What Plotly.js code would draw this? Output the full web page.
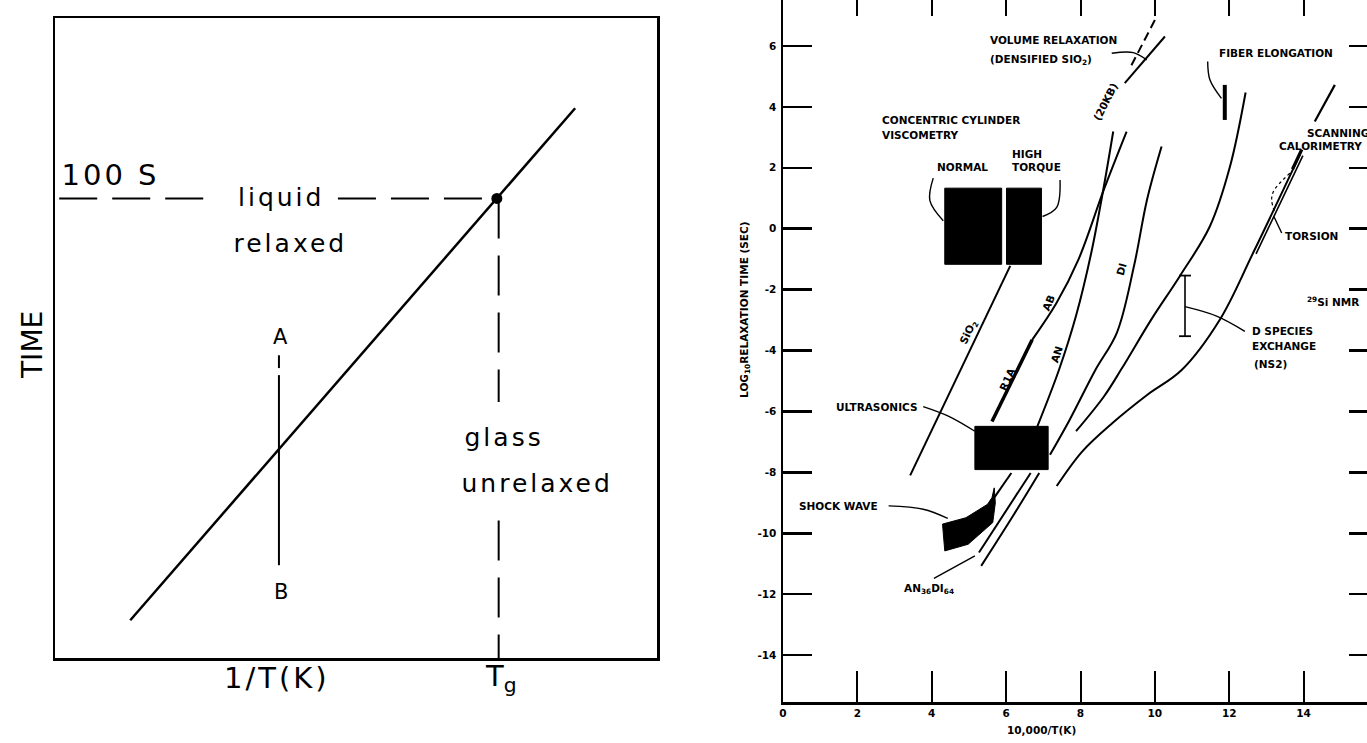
<!DOCTYPE html>
<html><head><meta charset="utf-8">
<script src="https://cdn.plot.ly/plotly-3.0.1.min.js"></script>
<style>
html,body{margin:0;padding:0;background:#fff;overflow:hidden;width:1367px;height:743px;}
#chart{position:absolute;left:0;top:-30px;width:1400px;height:773px;}
</style></head><body><div id="chart"></div>
<script>
// ================= LEFT PANEL (schematic; fractions of the box) =================
const mainLineX = [0.125, 0.864];
const mainLineY = [0.059, 0.859];
const tgPointX = [0.734];
const tgPointY = [0.718];
const hDashAX = [0.007, 0.262], hDashAY = [0.718, 0.718];
const hDashBX = [0.470, 0.734], hDashBY = [0.718, 0.718];
const vDashAX = [0.737, 0.737], vDashAY = [0.718, 0.40];
const vDashBX = [0.737, 0.737], vDashBY = [0.215, 0.0];
const abDashX = [0.372, 0.372], abDashY = [0.473, 0.453];
const abSolidX = [0.372, 0.372], abSolidY = [0.442, 0.145];

// ================= RIGHT PANEL (10,000/T(K) vs log10 relaxation time) =================
const xTicks = [0, 2, 4, 6, 8, 10, 12, 14, 16];
const xTickText = ["0", "2", "4", "6", "8", "10", "12", "14", ""];
const yTicks = [-14, -12, -10, -8, -6, -4, -2, 0, 2, 4, 6, 8];
const yTickText = ["-14", "-12", "-10", "-8", "-6", "-4", "-2", "0", "2", "4", "6", ""];

const sio2X = [6.11, 3.42];                 const sio2Y = [-1.22, -8.10];
const abX = [9.24, 8.63, 7.95, 7.35, 6.70];  const abY = [3.19, 1.29, -1.00, -2.45, -3.65];
const r1aX = [6.70, 5.62];                  const r1aY = [-3.65, -6.33];
const anX = [8.88, 8.63, 8.29, 7.88, 7.42, 6.84]; const anY = [3.19, 1.40, -0.79, -2.86, -4.64, -6.49];
const diX = [10.18, 9.79, 9.44, 8.98, 8.40, 7.71, 7.18]; const diY = [2.70, 0.96, -1.22, -3.41, -4.64, -6.27, -7.42];
const fiberCurveX = [12.44, 12.02, 11.48, 10.67, 9.91, 9.10, 8.63, 7.88];
const fiberCurveY = [4.47, 2.04, 0.08, -1.56, -2.97, -4.61, -5.51, -6.65];
const nmrCurveX = [13.90, 12.64, 11.75, 10.72, 9.79, 8.86, 8.05, 7.36];
const nmrCurveY = [2.43, -0.80, -2.98, -4.64, -5.46, -6.38, -7.31, -8.45];
const torsionLineX = [13.98, 12.72];        const torsionLineY = [2.40, -0.83];
const lowAX = [6.14, 5.68];                 const lowAY = [-8.02, -8.83];
const lowBX = [6.66, 5.27];                 const lowBY = [-8.02, -10.63];
const lowCX = [6.89, 6.20, 5.33];           const lowCY = [-8.02, -9.40, -11.07];
const volDashX = [10.00, 9.33];             const volDashY = [6.85, 5.27];
const volSolidX = [10.27, 9.19];            const volSolidY = [6.31, 4.78];
const scanSegX = [14.84, 14.30];            const scanSegY = [4.72, 3.52];
const calSegX = [13.95, 13.70];             const calSegY = [2.60, 1.95];
const fiberBarX = [11.88, 11.88];           const fiberBarY = [4.72, 3.57];
const errBarX = [10.81, 10.81];             const errBarY = [-1.54, -3.53];
const errCapTopX = [10.65, 10.97];          const errCapTopY = [-1.54, -1.54];
const errCapBotX = [10.65, 10.97];          const errCapBotY = [-3.53, -3.53];

const normalBoxX = [4.35, 5.88, 5.88, 4.35, 4.35]; const normalBoxY = [-1.17, -1.17, 1.33, 1.33, -1.17];
const torqueBoxX = [6.01, 6.95, 6.95, 6.01, 6.01]; const torqueBoxY = [-1.17, -1.17, 1.33, 1.33, -1.17];
const ultraBoxX = [5.16, 7.13, 7.13, 5.16, 5.16];  const ultraBoxY = [-7.91, -7.91, -6.49, -6.49, -7.91];
const shockX = [4.29, 4.92, 5.21, 5.50, 5.62, 5.68, 5.71, 5.64, 4.98, 4.35, 4.29];
const shockY = [-9.70, -9.49, -9.27, -9.05, -8.83, -8.51, -9.00, -9.65, -10.36, -10.58, -9.70];

// leader lines
const volLeadX = [8.84, 9.42, 9.78];   const volLeadY = [5.76, 5.78, 5.54];
const fiberLeadX = [11.42, 11.48, 11.79]; const fiberLeadY = [5.49, 4.89, 4.28];
const normLeadX = [4.04, 3.95, 4.31];  const normLeadY = [1.66, 0.92, 0.26];
const torqLeadX = [7.45, 7.36, 6.98];  const torqLeadY = [1.60, 0.70, 0.40];
const torsArcX = [13.63, 13.20, 13.14, 13.23]; const torsArcY = [1.82, 1.25, 0.95, 0.51];
const torsLeadX = [13.41, 13.20];      const torsLeadY = [-0.14, 0.40];
const dspLeadX = [10.81, 11.66, 12.42]; const dspLeadY = [-2.56, -2.87, -3.37];
const ultraLeadX = [3.77, 4.46, 5.16]; const ultraLeadY = [-5.84, -6.16, -6.65];
const shockLeadX = [2.84, 3.77, 4.43]; const shockLeadY = [-9.10, -9.21, -9.51];
const andiLeadX = [4.06, 5.16];        const andiLeadY = [-11.48, -10.74];

// ================= build =================
const K = '#000';
function ln(x, y, ax, w, extra) {
  const line = {color: K, width: w};
  if (extra && extra.dash) line.dash = extra.dash;
  if (extra && extra.spline) line.shape = 'spline';
  return {type: 'scatter', mode: 'lines', x: x, y: y, xaxis: ax[0], yaxis: ax[1],
    line: line, hoverinfo: 'skip', showlegend: false};
}
const L = ['x', 'y'], R = ['x2', 'y2'];
const S = {spline: true};
const CW = 2;
const traces = [
  ln(mainLineX, mainLineY, L, 2.5),
  ln(hDashAX, hDashAY, L, 2, {dash: '38px,15px'}),
  ln(hDashBX, hDashBY, L, 2, {dash: '38px,15px'}),
  ln(vDashAX, vDashAY, L, 2, {dash: '40px,17px'}),
  ln(vDashBX, vDashBY, L, 2, {dash: '40px,17px'}),
  ln(abDashX, abDashY, L, 2),
  ln(abSolidX, abSolidY, L, 2),
  {type: 'scatter', mode: 'markers', x: tgPointX, y: tgPointY, xaxis: 'x', yaxis: 'y',
   marker: {color: K, size: 11}, hoverinfo: 'skip', showlegend: false},

  ln(sio2X, sio2Y, R, CW),
  ln(abX, abY, R, CW, S),
  ln(r1aX, r1aY, R, 3.5),
  ln(anX, anY, R, CW, S),
  ln(diX, diY, R, CW, S),
  ln(fiberCurveX, fiberCurveY, R, CW, S),
  ln(nmrCurveX, nmrCurveY, R, CW, S),
  ln(torsionLineX, torsionLineY, R, 1.6),
  ln(lowAX, lowAY, R, CW),
  ln(lowBX, lowBY, R, CW),
  ln(lowCX, lowCY, R, CW, S),
  ln(volDashX, volDashY, R, CW, {dash: '9px,5px'}),
  ln(volSolidX, volSolidY, R, CW),
  ln(scanSegX, scanSegY, R, 2.2),
  ln(calSegX, calSegY, R, 3.2),
  ln(fiberBarX, fiberBarY, R, 4),
  ln(errBarX, errBarY, R, 1.6),
  ln(errCapTopX, errCapTopY, R, 1.8),
  ln(errCapBotX, errCapBotY, R, 1.8),
  ln(volLeadX, volLeadY, R, 1.4, S),
  ln(fiberLeadX, fiberLeadY, R, 1.4, S),
  ln(normLeadX, normLeadY, R, 1.4, S),
  ln(torqLeadX, torqLeadY, R, 1.4, S),
  ln(torsArcX, torsArcY, R, 1.2, {dash: '3px,3px', spline: true}),
  ln(torsLeadX, torsLeadY, R, 1.4),
  ln(dspLeadX, dspLeadY, R, 1.4, S),
  ln(ultraLeadX, ultraLeadY, R, 1.4, S),
  ln(shockLeadX, shockLeadY, R, 1.4, S),
  ln(andiLeadX, andiLeadY, R, 1.4)
];
[[normalBoxX, normalBoxY], [torqueBoxX, torqueBoxY], [ultraBoxX, ultraBoxY], [shockX, shockY]].forEach(p => {
  traces.push({type: 'scatter', mode: 'lines', x: p[0], y: p[1], xaxis: 'x2', yaxis: 'y2', fill: 'toself',
    fillcolor: K, line: {color: K, width: 1}, hoverinfo: 'skip', showlegend: false});
});

const bigFont = {family: 'DejaVu Sans', size: 25, color: K};
const smFont = {family: 'DejaVu Sans', size: 10.5, color: K, weight: 'bold'};
function ann(text, x, y, opts) {
  return Object.assign({text: text, x: x, y: y, xref: 'x2', yref: 'y2', showarrow: false, font: smFont,
    xanchor: 'center', yanchor: 'middle'}, opts || {});
}
function big(size) { return Object.assign({}, bigFont, {size: size}); }
const annotations = [
  // left panel
  ann('100 S', 0.020, 0.755, {xref: 'x', yref: 'y', xanchor: 'left', font: big(29)}),
  ann('liquid', 0.316, 0.720, {xref: 'x', yref: 'y', xanchor: 'left', font: bigFont}),
  ann('relaxed', 0.311, 0.648, {xref: 'x', yref: 'y', xanchor: 'left', font: bigFont}),
  ann('glass', 0.690, 0.345, {xref: 'x', yref: 'y', xanchor: 'left', font: bigFont}),
  ann('unrelaxed', 0.694, 0.272, {xref: 'x', yref: 'y', xanchor: 'left', font: bigFont}),
  ann('A', 0.374, 0.502, {xref: 'x', yref: 'y', font: big(21)}),
  ann('B', 0.376, 0.103, {xref: 'x', yref: 'y', font: big(21)}),
  ann('TIME', 0.02357, 0.5149, {xref: 'paper', yref: 'paper', textangle: -90, font: big(28)}),
  ann('1/T(K)', 0.1975, 0.0841, {xref: 'paper', yref: 'paper', font: big(29)}),
  ann('T<sub>g</sub>', 0.3575, 0.0841, {xref: 'paper', yref: 'paper', font: big(29)}),
  // right panel
  ann('VOLUME RELAXATION', 5.51, 6.20, {xanchor: 'left'}),
  ann('(DENSIFIED SIO<sub>2</sub>)', 5.51, 5.54, {xanchor: 'left'}),
  ann('(20KB)', 8.66, 4.17, {textangle: -63}),
  ann('CONCENTRIC CYLINDER', 2.61, 3.58, {xanchor: 'left'}),
  ann('VISCOMETRY', 2.61, 3.09, {xanchor: 'left'}),
  ann('NORMAL', 4.84, 2.04),
  ann('HIGH', 6.57, 2.46),
  ann('TORQUE', 6.82, 2.04),
  ann('FIBER ELONGATION', 13.27, 5.76),
  ann('SCANNING', 14.03, 3.14, {xanchor: 'left'}),
  ann('CALORIMETRY', 13.29, 2.70, {xanchor: 'left'}),
  ann('TORSION', 14.21, -0.23),
  ann('<sup>29</sup>Si NMR', 14.03, -2.40, {xanchor: 'left'}),
  ann('D SPECIES', 12.55, -3.37, {xanchor: 'left'}),
  ann('EXCHANGE', 12.55, -3.86, {xanchor: 'left'}),
  ann('(NS2)', 12.60, -4.45, {xanchor: 'left'}),
  ann('DI', 9.10, -1.33, {textangle: -75}),
  ann('AB', 7.13, -2.43, {textangle: -68}),
  ann('AN', 7.36, -4.12, {textangle: -72}),
  ann('SiO<sub>2</sub>', 4.98, -3.41, {textangle: -64}),
  ann('R1A', 6.03, -4.93, {textangle: -66}),
  ann('ULTRASONICS', 2.52, -5.84),
  ann('SHOCK WAVE', 1.48, -9.10),
  ann('AN<sub>36</sub>DI<sub>64</sub>', 3.93, -11.83),
  ann('LOG<sub>10</sub>RELAXATION TIME (SEC)', 0.5321, 0.5602, {xref: 'paper', yref: 'paper', textangle: -90}),
  ann('10,000/T(K)', 0.7436, 0.0165, {xref: 'paper', yref: 'paper'})
];

const W = 1400, H = 773;
const tickFont = {family: 'DejaVu Sans', size: 10.5, color: K, weight: 'bold'};
const layout = {
  width: W, height: H, margin: {l: 0, r: 0, t: 0, b: 0},
  paper_bgcolor: '#fff', plot_bgcolor: '#fff', showlegend: false,
  xaxis: {domain: [55 / W, 657 / W], range: [0, 1], showgrid: false, zeroline: false, showticklabels: false,
          ticks: '', showline: true, mirror: true, linecolor: K, linewidth: 2.5, anchor: 'y', fixedrange: true},
  yaxis: {domain: [1 - 688 / H, 1 - 48 / H], range: [0, 1], showgrid: false, zeroline: false, showticklabels: false,
          ticks: '', showline: true, mirror: true, linecolor: K, linewidth: 2.5, anchor: 'x', fixedrange: true},
  xaxis2: {domain: [783 / W, 1378 / W], range: [0, 16], anchor: 'y2', showgrid: false, zeroline: false,
           tickmode: 'array', tickvals: xTicks, ticktext: xTickText, ticks: 'inside', ticklen: 31, tickwidth: 2,
           tickcolor: K, showline: true, mirror: 'ticks', linecolor: K, linewidth: 2.5,
           tickfont: tickFont, ticklabelstandoff: 0},
  yaxis2: {domain: [1 - 732 / H, 1 - 15 / H], range: [-15.54, 8.0], anchor: 'x2', showgrid: false, zeroline: false,
           tickmode: 'array', tickvals: yTicks, ticktext: yTickText, ticks: 'inside', ticklen: 29, tickwidth: 2.5,
           tickcolor: K, showline: true, mirror: 'ticks', linecolor: K, linewidth: 2.5,
           tickfont: tickFont, ticklabelstandoff: 2},
  annotations: annotations
};
Plotly.newPlot('chart', traces, layout, {staticPlot: true, displayModeBar: false}).then(gd => {
  // wide letter spacing of the hand-lettered left panel words
  const wide = ['100 S', 'liquid', 'relaxed', 'glass', 'unrelaxed', '1/T(K)'];
  gd.querySelectorAll('text.annotation-text').forEach(t => {
    if (wide.indexOf(t.textContent) >= 0) t.style.letterSpacing = '3px';
  });
});
</script></body></html>
